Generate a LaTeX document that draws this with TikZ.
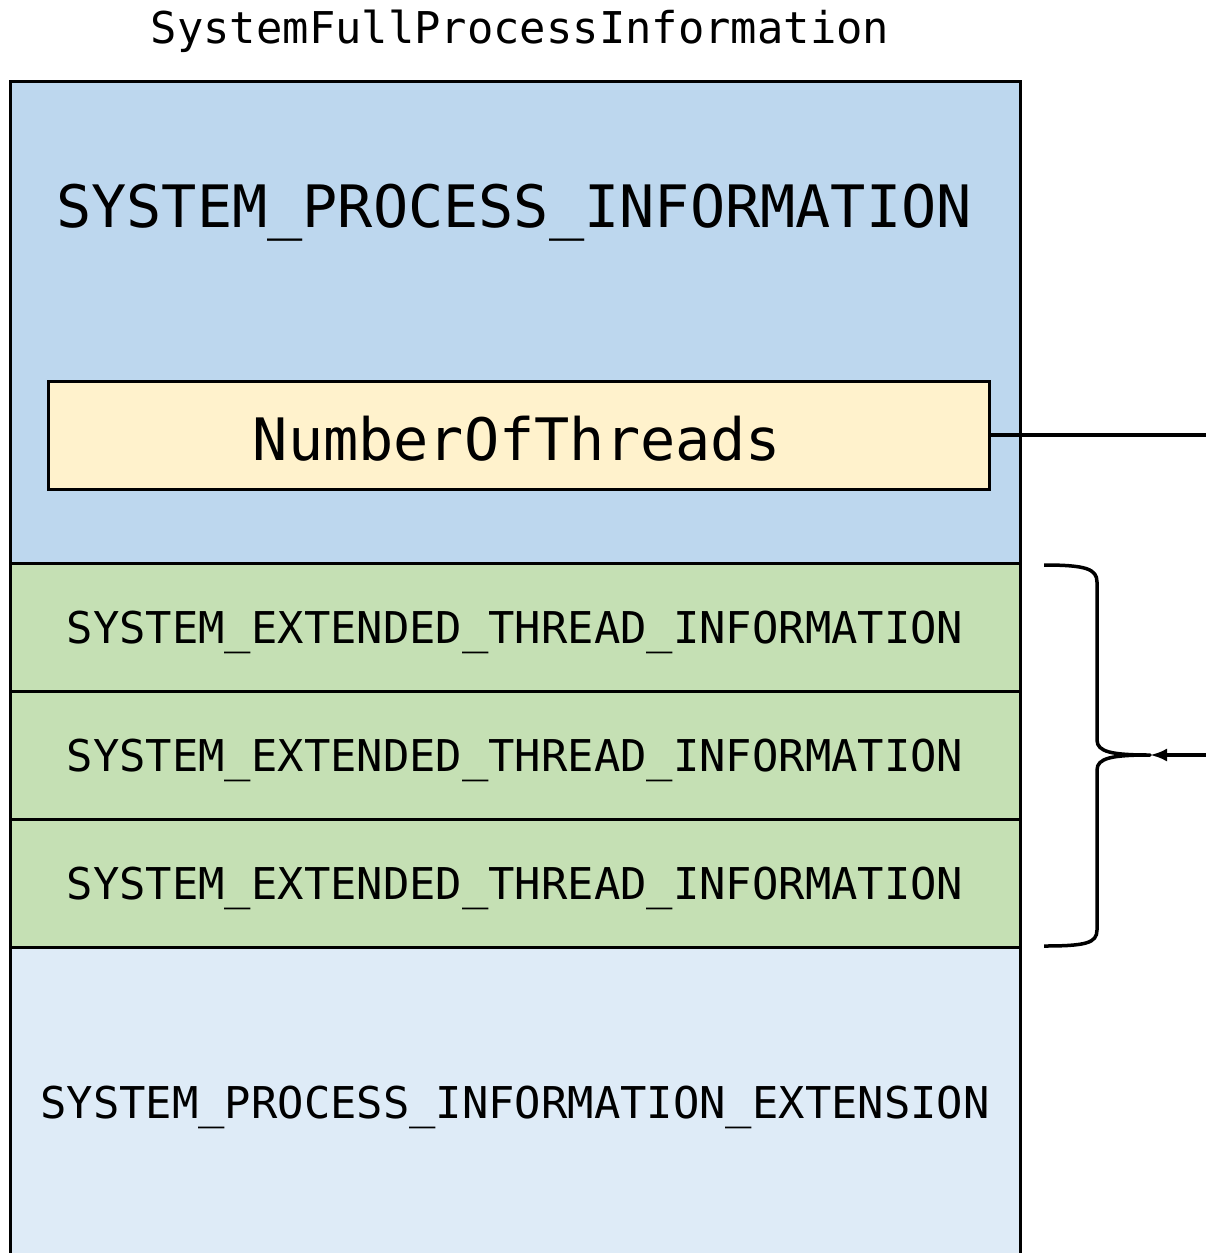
\documentclass[tikz,border=0pt]{standalone}
\usepackage{fontspec}
\setmonofont{DejaVu Sans Mono}
\usetikzlibrary{arrows.meta}
\definecolor{bluetop}{HTML}{BDD7EE}
\definecolor{yellowf}{HTML}{FFF2CC}
\definecolor{greenf}{HTML}{C5E0B4}
\definecolor{bluelow}{HTML}{DEEBF7}
\tikzset{
  blk/.style={draw=black, line width=3pt, rectangle, inner sep=0pt, minimum width=1010pt},
  fieldbox/.style={draw=black, line width=3pt, rectangle, inner sep=0pt, fill=yellowf, minimum width=941pt, minimum height=108pt},
  bigtxt/.style={font=\ttfamily\fontsize{58.5}{60}\selectfont, inner sep=0pt},
  smalltxt/.style={font=\ttfamily\fontsize{43.8}{46}\selectfont, inner sep=0pt},
  conn/.style={draw=black, line width=3.5pt},
}
\begin{document}
\begin{tikzpicture}[x=1pt,y=-1pt]
\useasboundingbox (0,0) rectangle (1206,1253);
\clip (0,0) rectangle (1206,1253);
\node[smalltxt] (title) at (520,31) {SystemFullProcessInformation};
\node[blk, fill=bluetop, minimum height=482pt] (spi) at (515,322) {};
\node[bigtxt] (spitxt) at (514,213) {SYSTEM\_PROCESS\_INFORMATION};
\node[fieldbox] (not) at (518.5,435) {};
\node[bigtxt] (nottxt) at (517,439) {NumberOfThreads};
\node[blk, fill=greenf, minimum height=128pt] (g1) at (515,627) {};
\node[blk, fill=greenf, minimum height=128pt] (g2) at (515,755) {};
\node[blk, fill=greenf, minimum height=128pt] (g3) at (515,883) {};
\node[smalltxt] (g1t) at (515,632) {SYSTEM\_EXTENDED\_THREAD\_INFORMATION};
\node[smalltxt] (g2t) at (515,760) {SYSTEM\_EXTENDED\_THREAD\_INFORMATION};
\node[smalltxt] (g3t) at (515,888) {SYSTEM\_EXTENDED\_THREAD\_INFORMATION};
\node[blk, fill=bluelow, minimum height=333pt] (ext) at (515,1113.5) {};
\node[smalltxt] (extt) at (515,1107) {SYSTEM\_PROCESS\_INFORMATION\_EXTENSION};
% connector from NumberOfThreads to right edge
\coordinate (rightA) at (1210,435);
\draw[conn] (not.east) -- (rightA);
% brace
\coordinate (btop) at (1044,565);
\coordinate (btip) at (1150,755);
\coordinate (bbot) at (1044,946);
\draw[conn, line join=round]
  (btop) .. controls (1086,565) and (1097,569) .. (1097,582)
  -- (1097,740) .. controls (1097,752) and (1112,755) .. (btip)
  .. controls (1112,755) and (1097,758) .. (1097,770)
  -- (1097,930) .. controls (1097,943) and (1086,946) .. (bbot);
% arrow into brace tip
\coordinate (rightB) at (1210,755);
\draw[conn, -{Latex[length=17pt,width=13pt]}] (rightB) -- (btip);
\end{tikzpicture}
\end{document}
